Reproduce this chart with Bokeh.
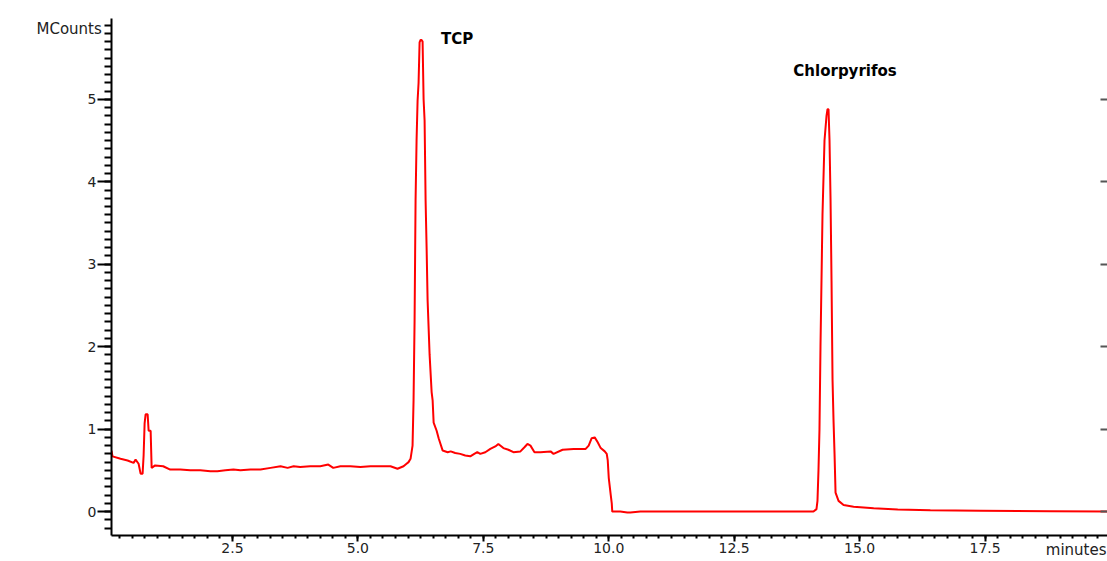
import numpy as np
from bokeh.plotting import figure
from bokeh.models import Range1d, LinearAxis, SingleIntervalTicker, Label, PrintfTickFormatter, Title
from bokeh.embed import file_html
from bokeh.resources import INLINE

# Chromatogram trace: retention time (minutes) and signal (MCounts)
time_min = [
    0.09, 0.11, 0.27, 0.41, 0.53, 0.57, 0.63, 0.67, 0.71, 0.73, 0.75, 0.77, 0.81, 0.83, 0.87, 0.89,
    0.96, 1.12, 1.26, 1.46, 1.66, 1.86, 2.06, 2.20, 2.36, 2.52, 2.66, 2.86, 3.06, 3.26, 3.46, 3.60,
    3.72, 3.85, 4.05, 4.25, 4.41, 4.51, 4.65, 4.85, 5.05, 5.25, 5.51, 5.65, 5.79, 5.91, 5.97,
    6.01, 6.05, 6.09, 6.11, 6.13, 6.15, 6.17, 6.19, 6.21, 6.23, 6.25, 6.27, 6.29, 6.31, 6.33, 6.35,
    6.37, 6.39, 6.43, 6.47, 6.49, 6.51, 6.57, 6.61, 6.69, 6.79, 6.85, 6.94, 7.04, 7.14, 7.24, 7.32,
    7.38, 7.44, 7.54, 7.64, 7.74, 7.80, 7.90, 8.00, 8.10, 8.24, 8.32, 8.38, 8.44, 8.52, 8.64, 8.84,
    8.90, 9.08, 9.30, 9.54, 9.60, 9.66, 9.72, 9.78, 9.84, 9.92, 9.96, 9.98, 10.00, 10.04, 10.06,
    10.07, 10.23, 10.37, 10.43, 10.63, 11.83, 12.83, 13.82, 14.08,
    14.14, 14.16, 14.18, 14.20, 14.22, 14.26, 14.30, 14.34, 14.36, 14.38, 14.40, 14.42, 14.44,
    14.46, 14.48, 14.50, 14.52, 14.58, 14.68, 14.88, 15.28, 15.76, 16.41, 17.41, 18.80, 19.94,
]
mcounts = [
    0.74, 0.67, 0.64, 0.62, 0.59, 0.63, 0.58, 0.46, 0.46, 0.68, 1.07, 1.18, 1.18, 0.98, 0.98, 0.53,
    0.56, 0.55, 0.51, 0.51, 0.50, 0.50, 0.49, 0.49, 0.50, 0.51, 0.50, 0.51, 0.51, 0.53, 0.55, 0.53,
    0.55, 0.54, 0.55, 0.55, 0.57, 0.53, 0.55, 0.55, 0.54, 0.55, 0.55, 0.55, 0.52, 0.55, 0.58,
    0.60, 0.64, 0.80, 1.35, 2.30, 3.77, 4.50, 4.98, 5.20, 5.69, 5.72, 5.72, 5.70, 5.00, 4.74, 3.77,
    3.20, 2.56, 1.90, 1.45, 1.35, 1.08, 0.98, 0.89, 0.74, 0.72, 0.73, 0.71, 0.70, 0.68, 0.67, 0.70,
    0.72, 0.70, 0.72, 0.76, 0.79, 0.82, 0.77, 0.75, 0.72, 0.73, 0.78, 0.82, 0.80, 0.72, 0.72, 0.73,
    0.70, 0.75, 0.76, 0.76, 0.80, 0.89, 0.90, 0.84, 0.77, 0.73, 0.70, 0.62, 0.41, 0.20, 0.10,
    0.00, 0.00, -0.01, -0.01, 0.00, 0.00, 0.00, 0.00, 0.00,
    0.03, 0.13, 0.50, 1.00, 2.00, 3.60, 4.50, 4.80, 4.88, 4.88, 4.50, 3.80, 2.80,
    1.60, 1.10, 0.70, 0.23, 0.13, 0.08, 0.06, 0.04, 0.025, 0.015, 0.01, 0.005, 0.0,
]

peak_names = ["TCP", "Chlorpyrifos"]
peak_times = [6.26, 14.37]

x_label = "minutes"
y_label = "MCounts"

x_start, x_end = 0.09, 19.94
y_start, y_end = -0.29, 5.98

FONT = "DejaVu Sans"
W, H = 1107, 561
BL, BT, BB = 111, 18, 26

p = figure(width=W, height=H, output_backend="svg", toolbar_location=None,
           x_range=Range1d(x_start, x_end), y_range=Range1d(y_start, y_end),
           min_border_left=BL, min_border_right=0, min_border_top=BT, min_border_bottom=BB,
           title=None)
p.outline_line_color = None
p.xgrid.visible = False
p.ygrid.visible = False
p.background_fill_color = "white"
p.border_fill_color = "white"

# bottom axis
xa = p.xaxis[0]
xa.ticker = SingleIntervalTicker(interval=2.5, num_minor_ticks=10)
xa.formatter = PrintfTickFormatter(format="%.1f")
xa.axis_line_width = 2
xa.axis_line_color = "black"
xa.major_tick_line_width = 2
xa.minor_tick_line_width = 2
xa.major_tick_line_color = "black"
xa.minor_tick_line_color = "black"
xa.major_tick_in = 0
xa.major_tick_out = 6
xa.minor_tick_in = 0
xa.minor_tick_out = 3
xa.major_label_standoff = 1
xa.major_label_text_font = FONT
xa.major_label_text_font_size = "14px"
xa.major_label_text_color = "#222222"

# left axis
ya = p.yaxis[0]
ya.ticker = SingleIntervalTicker(interval=1, num_minor_ticks=10)
ya.axis_line_width = 2
ya.axis_line_color = "black"
ya.major_tick_line_width = 2
ya.minor_tick_line_width = 2
ya.major_tick_line_color = "black"
ya.minor_tick_line_color = "black"
ya.major_tick_in = 0
ya.major_tick_out = 14
ya.minor_tick_in = 0
ya.minor_tick_out = 7
ya.major_label_standoff = 1
ya.major_label_text_font = FONT
ya.major_label_text_font_size = "14px"
ya.major_label_text_color = "#222222"

# axis titles at the ends of the axes
p.add_layout(Title(text=y_label, align="left", offset=-75, standoff=-38, vertical_align="bottom",
                   text_font=FONT, text_font_size="15px", text_font_style="normal",
                   text_color="#222222"), "above")
p.add_layout(Title(text=x_label, align="right", offset=1, standoff=-30, vertical_align="top",
                   text_font=FONT, text_font_size="15px", text_font_style="normal",
                   text_color="#222222"), "below")

# right axis: inward major ticks only, no labels
ra = LinearAxis(ticker=SingleIntervalTicker(interval=1, num_minor_ticks=0))
ra.axis_line_color = None
ra.major_tick_in = 7
ra.major_tick_out = 0
ra.major_tick_line_width = 2
ra.major_tick_line_color = "#555555"
ra.minor_tick_line_color = None
ra.major_label_overrides = {i: "" for i in range(-1, 8)}
ra.major_label_standoff = 0
p.add_layout(ra, "right")

# trace
p.line(time_min, mcounts, line_color="#ff0000", line_width=2)

# peak labels
offsets = {"TCP": (20, 1, "left"), "Chlorpyrifos": (17, 38, "center")}
for name, t in zip(peak_names, peak_times):
    h = float(np.interp(t, time_min, mcounts))
    dx, dy, al = offsets[name]
    p.add_layout(Label(x=t, y=h, text=name, x_offset=dx, y_offset=dy, text_align=al,
                       text_baseline="middle", text_font=FONT, text_font_style="bold",
                       text_font_size="15px", text_color="black"))

open("out.html", "w").write(file_html(p, INLINE))
